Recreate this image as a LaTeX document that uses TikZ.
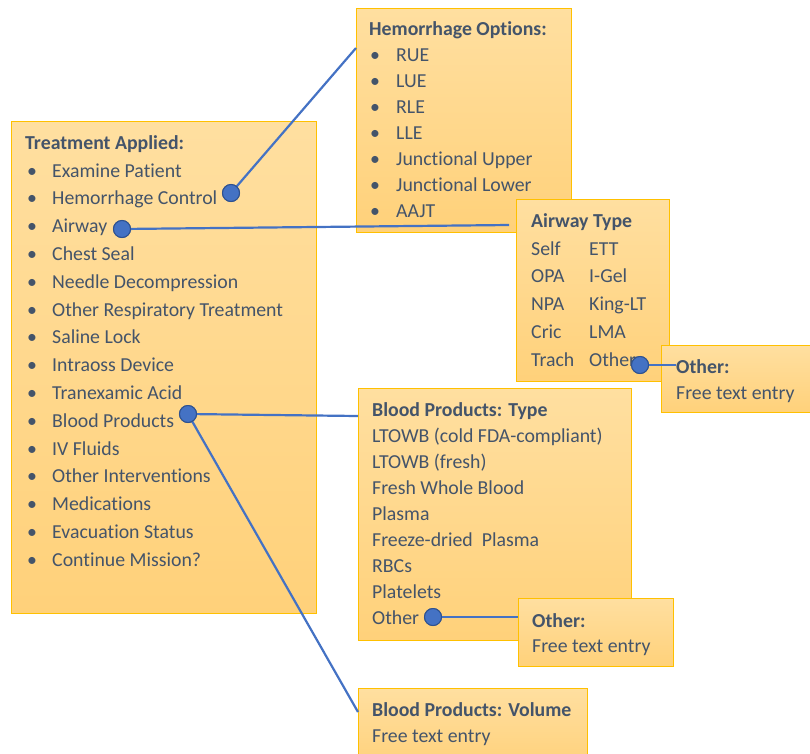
\documentclass[tikz,border=0pt]{standalone}
\usepackage{fontspec}
\setmainfont{Carlito}[RawFeature={-liga;-clig;-calt;-dlig;-hlig}]
\definecolor{txt}{HTML}{44546A}
\definecolor{edgec}{HTML}{FFC000}
\definecolor{topc}{HTML}{FFDFA0}
\definecolor{botc}{HTML}{FFD17A}
\definecolor{conn}{HTML}{4472C4}
\definecolor{dotb}{HTML}{2F528F}
\tikzset{
  box/.style={draw=edgec, line width=1pt, top color=topc, bottom color=botc, anchor=north west, inner sep=0pt, rectangle},
  txtl/.style={anchor=base west, inner sep=0pt, text=txt, font=\fontsize{19.8}{22}\selectfont},
  ttl/.style={anchor=base west, inner sep=0pt, text=txt, font=\fontsize{19.8}{22}\selectfont\bfseries},
  dotn/.style={circle, fill=conn, draw=dotb, line width=1pt, minimum size=17pt, inner sep=0pt},
  link/.style={draw=conn, line width=2.2pt},
}
\begin{document}
\begin{tikzpicture}[x=1pt,y=-1pt]
\useasboundingbox (0,0) rectangle (810,753);
\clip (0,0) rectangle (810,753);
% Treatment Applied
\node[box, minimum width=305pt, minimum height=492pt] (treat) at (11,121) {};
\node[ttl] (treatT) at (25,149) {Treatment Applied:};
\foreach \t [count=\i from 0] in {Examine Patient, Hemorrhage Control, Airway, Chest Seal, Needle Decompression, Other Respiratory Treatment, Saline Lock, Intraoss Device, Tranexamic Acid, Blood Products, IV Fluids, Other Interventions, Medications, Evacuation Status, Continue Mission?}{
  \node[txtl] (tb\i) at (27,{177+27.8*\i}) {\textbullet};
  \node[txtl] (tt\i) at (52,{177+27.8*\i}) {\t};
}
% Hemorrhage Options
\node[box, minimum width=215pt, minimum height=224pt] (hem) at (356,8) {};
\node[ttl] (hemT) at (369,35) {Hemorrhage Options:};
\foreach \t [count=\i from 0] in {RUE, LUE, RLE, LLE, Junctional Upper, Junctional Lower, AAJT}{
  \node[txtl] (hb\i) at (370,{61+26*\i}) {\textbullet};
  \node[txtl] (ht\i) at (396,{61+26*\i}) {\t};
}
% Airway Type
\node[box, minimum width=153pt, minimum height=182pt] (air) at (516,199) {};
\node[ttl] (airT) at (531,227) {Airway Type};
\foreach \a/\b [count=\i from 0] in {Self/ETT, OPA/I-Gel, NPA/King-LT, Cric/LMA, Trach/Other}{
  \node[txtl] (aa\i) at (531,{255+27.8*\i}) {\a};
  \node[txtl] (ab\i) at (589,{255+27.8*\i}) {\b};
}
% Airway Other
\node[box, minimum width=149pt, minimum height=67pt] (airO) at (661,345) {};
\node[ttl] (airOT) at (676,373) {Other:};
\node[txtl] (airOF) at (676,399) {Free text entry};
% Blood Products Type
\node[box, minimum width=273pt, minimum height=252pt] (blood) at (358,388) {};
\node[ttl] (bloodT) at (372,416) {Blood Products: Type};
\foreach \t [count=\i from 0] in {LTOWB (cold FDA-compliant), LTOWB (fresh), Fresh Whole Blood, Plasma, Freeze-dried\ \ Plasma, RBCs, Platelets, Other}{
  \node[txtl] (bt\i) at (372,{442+26*\i}) {\t};
}
% Blood Other
\node[box, minimum width=155pt, minimum height=68pt] (bloodO) at (518,598) {};
\node[ttl] (bloodOT) at (532,627) {Other:};
\node[txtl] (bloodOF) at (532,652) {Free text entry};
% Volume
\node[box, minimum width=229pt, minimum height=80pt] (vol) at (358,688) {};
\node[ttl] (volT) at (372,716) {Blood Products: Volume};
\node[txtl] (volF) at (372,742) {Free text entry};
% dots
\node[dotn] (dHem) at (231,193) {};
\node[dotn] (dAir) at (122,229) {};
\node[dotn] (dBlood) at (188,414) {};
\node[dotn] (dAirO) at (640,365) {};
\node[dotn] (dBloodO) at (433,617) {};
% connector end points
\coordinate (eHem) at (356,48);
\coordinate (eAir) at (509,225);
\coordinate (eAirO) at (676,365);
\coordinate (eBlood) at (358,416);
\coordinate (eVol) at (358,712);
\coordinate (eBloodO) at (518,617);
\draw[link] (dHem.center) -- (eHem);
\draw[link] (dAir.center) -- (eAir);
\draw[link] (dAirO.center) -- (eAirO);
\draw[link] (dBlood.center) -- (eBlood);
\draw[link] (dBlood.center) -- (eVol);
\draw[link] (dBloodO.center) -- (eBloodO);
% redraw dots on top
\node[dotn] at (dHem) {};
\node[dotn] at (dAir) {};
\node[dotn] at (dBlood) {};
\node[dotn] at (dAirO) {};
\node[dotn] at (dBloodO) {};
\end{tikzpicture}
\end{document}
